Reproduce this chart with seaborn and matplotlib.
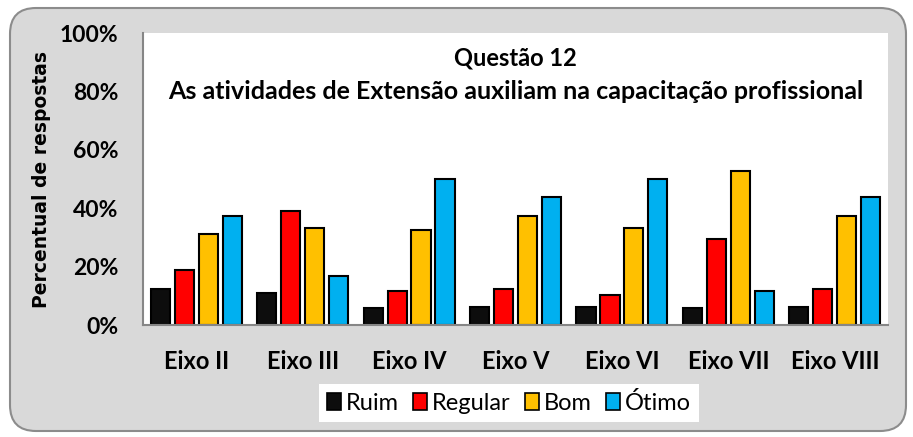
import matplotlib
matplotlib.use("Agg")
import matplotlib.pyplot as plt
import seaborn as sns
import pandas as pd
from matplotlib.patches import FancyBboxPatch, Patch
from matplotlib.ticker import PercentFormatter

categories = ["Eixo II", "Eixo III", "Eixo IV", "Eixo V", "Eixo VI", "Eixo VII", "Eixo VIII"]
ruim = [12.5, 11.1, 5.9, 6.25, 6.25, 5.9, 6.25]
regular = [18.75, 38.9, 11.8, 12.5, 10.4, 29.4, 12.5]
bom = [31.25, 33.3, 32.4, 37.5, 33.3, 52.9, 37.5]
otimo = [37.5, 16.7, 50.0, 43.75, 50.0, 11.8, 43.75]
series_names = ["Ruim", "Regular", "Bom", "Ótimo"]
colors = ["#0d0d0d", "#ff0000", "#ffc000", "#00b0f0"]
title_lines = ["Questão 12", "As atividades de Extensão auxiliam na capacitação profissional"]

rows = []
for name, vals in zip(series_names, [ruim, regular, bom, otimo]):
    for c, v in zip(categories, vals):
        rows.append({"Eixo": c, "Resposta": name, "Valor": v})
df = pd.DataFrame(rows)

sns.set_theme(style="white")
plt.rcParams["font.family"] = ["Lato", "DejaVu Sans"]

W, H = 913, 437
fig = plt.figure(figsize=(W / 100, H / 100), dpi=100)
fig.patch.set_facecolor("white")

bg = FancyBboxPatch((10 / 100, 6 / 100), 896 / 100, 423 / 100,
                    boxstyle="round,pad=0,rounding_size=0.26",
                    transform=fig.dpi_scale_trans, facecolor="#d9d9d9",
                    edgecolor="#8c8c8c", linewidth=1.5, zorder=-10)
fig.patches.append(bg)

ax = fig.add_axes([143 / W, 1 - 325 / H, (888 - 143) / W, (325 - 33) / H])
ax.set_zorder(5)
ax.set_facecolor("white")

sns.barplot(data=df, x="Eixo", y="Valor", hue="Resposta", order=categories,
            hue_order=series_names, palette=colors, saturation=1, width=0.9, gap=0.2,
            edgecolor="black", linewidth=1.5, ax=ax, legend=False)

ax.set_ylim(0, 100)
ax.set_yticks([0, 20, 40, 60, 80, 100])
ax.yaxis.set_major_formatter(PercentFormatter(decimals=0))
ax.set_xlim(-0.5, len(categories) - 0.5)
for s in ["top", "right"]:
    ax.spines[s].set_visible(False)
for s in ["left", "bottom"]:
    ax.spines[s].set_color("#868686")
    ax.spines[s].set_linewidth(1.5)
ax.tick_params(axis="both", length=0)
ax.tick_params(axis="y", pad=18)
ax.tick_params(axis="x", pad=18)
for lbl in ax.get_yticklabels():
    lbl.set_fontsize(16.5)
    lbl.set_fontweight("bold")
    lbl.set_color("black")
for lbl in ax.get_xticklabels():
    lbl.set_fontsize(17)
    lbl.set_fontweight("bold")
    lbl.set_color("black")
ax.set_xlabel("")
ax.set_ylabel("Percentual de respostas", fontsize=13.5, fontweight="bold",
              family="DejaVu Sans", labelpad=6, color="black")

ax.text(0.5, 0.914, title_lines[0], transform=ax.transAxes, ha="center", va="center",
        fontsize=17, fontweight="bold", color="black")
ax.text(0.5, 0.801, title_lines[1], transform=ax.transAxes, ha="center", va="center",
        fontsize=18, fontweight="bold", color="black")

handles = [Patch(facecolor=c, edgecolor="black", linewidth=1.2) for c in colors]
leg = fig.legend(handles, series_names, loc="center", bbox_to_anchor=(509 / W, 1 - 403 / H),
                 ncol=4, frameon=True, fancybox=False, fontsize=17, framealpha=1,
                 handlelength=0.6, handleheight=0.75, handletextpad=0.2,
                 columnspacing=0.6, borderpad=0.35)
leg.get_frame().set_facecolor("white")
leg.get_frame().set_edgecolor("white")
leg.get_frame().set_linewidth(0)
for t in leg.get_texts():
    t.set_color("black")

fig.savefig("out.png", dpi=100)
